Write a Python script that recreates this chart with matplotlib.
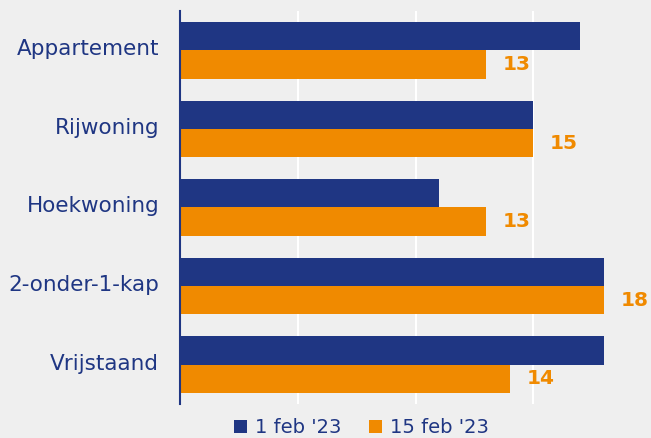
import matplotlib
matplotlib.use('Agg')
import matplotlib.pyplot as plt
import matplotlib.transforms as mtransforms
import numpy as np

# Data
categories = ["Appartement", "Rijwoning", "Hoekwoning", "2-onder-1-kap", "Vrijstaand"]
feb1 = [17, 15, 11, 18, 18]
feb15 = [13, 15, 13, 18, 14]
series_names = ["1 feb '23", "15 feb '23"]

BLUE = "#1f3683"
ORANGE = "#f08a00"
BG = "#efefef"

fig = plt.figure(figsize=(6.51, 4.38), dpi=100, facecolor=BG)
ax = fig.add_axes([0.2765, 0.0776, 0.7235, 0.8974], facecolor=BG)

y = np.arange(len(categories))
h = 0.36
ax.barh(y - h / 2, feb1, height=h, color=BLUE, label=series_names[0], zorder=3)
bars2 = ax.barh(y + h / 2, feb15, height=h, color=ORANGE, label=series_names[1], zorder=3)

# Labels on the orange bars
for rect, v in zip(bars2, feb15):
    ax.annotate(str(v), (rect.get_width(), rect.get_y() + rect.get_height() / 2),
                xytext=(12, 0), textcoords="offset points", va="center", ha="left",
                color=ORANGE, fontsize=14.5, fontweight="bold", annotation_clip=False)

ax.set_xlim(0, 20)
ax.set_ylim(len(categories) - 0.5, -0.5)
ax.set_xticks([5, 10, 15])
ax.set_xticklabels([])
ax.tick_params(axis="x", length=0)
ax.grid(axis="x", color="white", linewidth=1.5, zorder=0)
ax.set_yticks(y)
ax.set_yticklabels(categories, fontsize=15.5, color=BLUE)
ax.tick_params(axis="y", length=0, pad=15)
# iets omhoog zoals in het origineel
shift = mtransforms.ScaledTranslation(0, 3 / 100, fig.dpi_scale_trans)
for lbl in ax.get_yticklabels():
    lbl.set_transform(lbl.get_transform() + shift)

for s in ["top", "right", "bottom"]:
    ax.spines[s].set_visible(False)
ax.spines["left"].set_color(BLUE)
ax.spines["left"].set_linewidth(1.5)
ax.spines["left"].set_zorder(4)

leg = fig.legend(loc="center", bbox_to_anchor=(0.555, 0.023), ncol=2, frameon=False,
                 fontsize=14, handlelength=0.7, handleheight=0.7, handletextpad=0.4,
                 columnspacing=1.4, labelcolor=BLUE)

fig.savefig("out.png", dpi=100, facecolor=BG)
